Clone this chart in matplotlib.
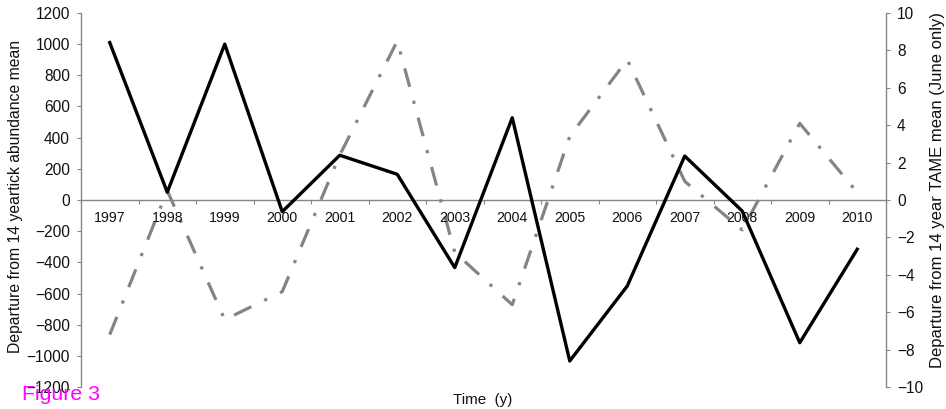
import matplotlib
matplotlib.use("Agg")
import matplotlib.pyplot as plt
import numpy as np

years = ["1997", "1998", "1999", "2000", "2001", "2002", "2003",
         "2004", "2005", "2006", "2007", "2008", "2009", "2010"]
tick_departure = [1010, 50, 1000, -75, 287, 165, -434,
                  528, -1033, -552, 282, -71, -916, -316]
tame_departure = [-7.2, 0.5, -6.4, -4.9, 2.4, 8.5, -2.8,
                  -5.6, 3.4, 7.5, 1.0, -1.6, 4.1, 0.4]

plt.rcParams['font.family'] = ['Liberation Sans', 'DejaVu Sans']
W, H = 946, 409
fig = plt.figure(figsize=(W / 100, H / 100), dpi=100)
ax = fig.add_axes([81 / W, 1 - 387 / H, (886 - 81) / W, (387 - 13) / H])
ax2 = ax.twinx()

x = np.arange(len(years))
spine_col = '#868686'
txt_col = '#111111'

ax2.plot(x, tame_departure, color='#848484', lw=2.3,
         linestyle=(0, (6.0, 4.5, 1.0, 4.5)), zorder=2)
ax.plot(x, tick_departure, color='black', lw=2.4, zorder=3)
ax.set_zorder(ax2.get_zorder() + 1)
ax.patch.set_visible(False)

ax.set_xlim(-0.5, len(years) - 0.5)
ax.set_ylim(-1200, 1200)
ax2.set_ylim(-10, 10)
ax.set_yticks(np.arange(-1200, 1201, 200))
ax2.set_yticks(np.arange(-10, 11, 2))

for a in (ax, ax2):
    a.spines['top'].set_visible(False)
ax.spines['right'].set_visible(False)
ax2.spines['left'].set_visible(False)
ax2.spines['bottom'].set_visible(False)
ax.spines['left'].set_color(spine_col)
ax2.spines['right'].set_color(spine_col)
ax.spines['left'].set_linewidth(1.0)
ax2.spines['right'].set_linewidth(1.0)
ax.spines['bottom'].set_position(('data', 0))
ax.spines['bottom'].set_color(spine_col)
ax.spines['bottom'].set_linewidth(1.0)

ax.set_xticks(x)
ax.set_xticklabels(years)
ax.set_xticks(np.arange(-0.5, len(years), 1), minor=True)
ax.tick_params(axis='x', which='major', length=0, pad=8, labelsize=10.2, colors=txt_col)
ax.tick_params(axis='x', which='minor', length=3, width=0.8, direction='out', color=spine_col)
ax.tick_params(axis='y', length=3, width=0.8, color=spine_col, labelsize=11.2,
               labelcolor=txt_col, pad=5)
ax2.tick_params(axis='y', length=3, width=0.8, color=spine_col, labelsize=11.2,
                labelcolor=txt_col, pad=5)

fig.text(16 / W, 1 - 196 / H, 'Departure from 14 yeartick abundance mean',
         rotation=90, ha='center', va='center', fontsize=11.3, color=txt_col)
fig.text(937 / W, 1 - 190 / H, 'Departure from 14 year TAME mean (June only)',
         rotation=90, ha='center', va='center', fontsize=12.0, color=txt_col)
fig.text(483 / W, 1 - 400 / H, 'Time  (y)', ha='center', va='center',
         fontsize=10.9, color=txt_col)
fig.text(22 / W, 1 - 395 / H, 'Figure 3', ha='left', va='center',
         fontsize=15.3, color='#ff00ff')

fig.savefig('out.png', dpi=100)
